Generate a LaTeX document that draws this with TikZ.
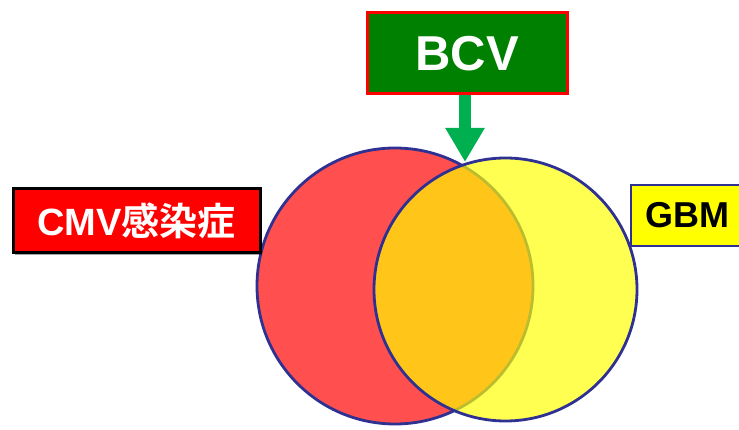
\documentclass[tikz,border=0pt]{standalone}
\usepackage{fontspec}
\setmainfont{Liberation Sans}
\newfontfamily\jpfont{Noto Sans CJK JP}[BoldFont={Noto Sans CJK JP Bold}]
\usetikzlibrary{arrows.meta,shadows}

\definecolor{boxgreen}{RGB}{0,128,0}
\definecolor{arrowgreen}{RGB}{0,176,80}
\definecolor{vennred}{RGB}{255,0,0}
\definecolor{vennyellow}{RGB}{255,255,0}
\definecolor{ringblue}{RGB}{46,49,146}

\begin{document}
\begin{tikzpicture}[x=1pt,y=-1pt,
  labelbox/.style={rectangle, inner sep=0pt, line width=3pt, font=\bfseries},
  ring/.style={draw=ringblue, line width=2.8pt, circle, inner sep=0pt},
  shade/.style={drop shadow={shadow xshift=2pt, shadow yshift=-2pt, opacity=0.35, fill=black}}]
\useasboundingbox (0,0) rectangle (739,430);
\clip (0,0) rectangle (739,430);

% the two overlapping sets
\node (setA) [ring, fill=vennred, fill opacity=0.69, minimum size=276pt] at (395,286) {};
\node (setB) [ring, fill=vennyellow, fill opacity=0.68, minimum size=263pt] at (505.5,289.5) {};

% labels
\node (bcv) [labelbox, draw=vennred, fill=boxgreen, text=white,
  minimum width=200pt, minimum height=81pt, font=\bfseries\fontsize{49}{49}\selectfont]
  at (467,53.5) {BCV};

\node (cmv) [labelbox, shade, draw=black, fill=vennred, text=white,
  minimum width=247pt, minimum height=64pt, font=\bfseries\fontsize{38}{38}\selectfont]
  at (136.5,221) {CMV{\jpfont\bfseries 感染症}};

\node (gbm) [labelbox, draw=ringblue, fill=vennyellow, text=black, line width=2.5pt,
  minimum width=113pt, minimum height=61pt, font=\bfseries\fontsize{36}{36}\selectfont]
  at (687.5,215.5) {GBM};

% block arrow from BCV down to the top of the overlap
\coordinate (meet) at (465,162);
\draw[arrowgreen, line width=12pt, -{Triangle[width=37pt,length=34pt]}]
  (bcv.south -| meet) -- (meet);
\end{tikzpicture}
\end{document}
